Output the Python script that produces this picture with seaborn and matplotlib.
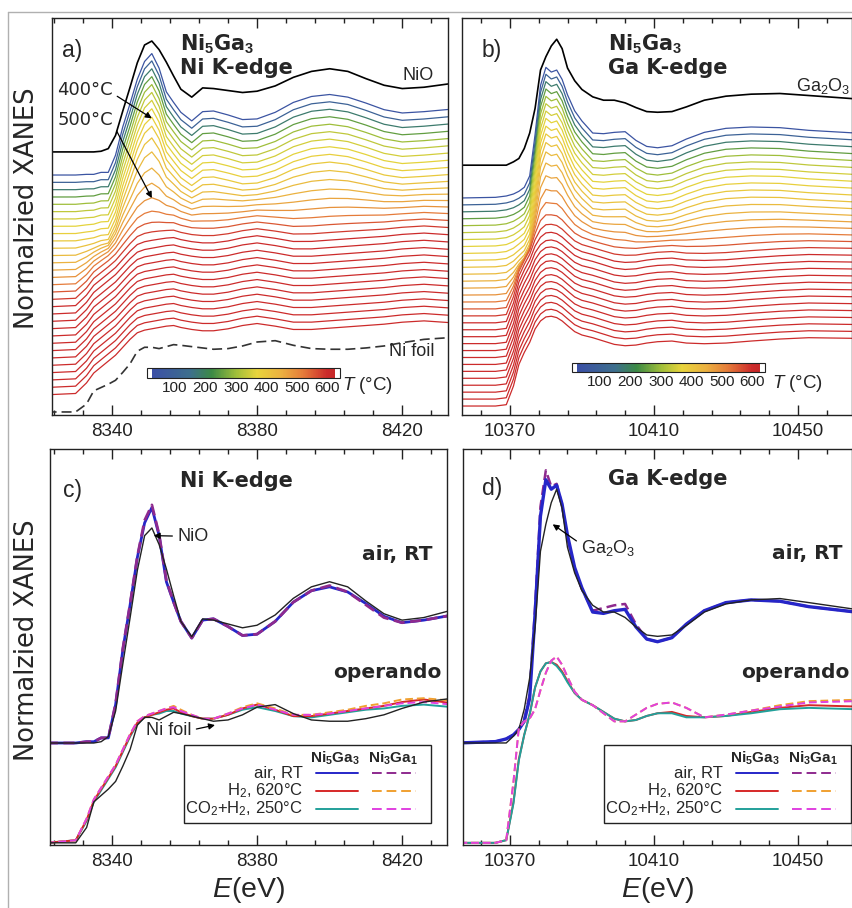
import numpy as np
import pandas as pd
import matplotlib
matplotlib.use("Agg")
import matplotlib.pyplot as plt
import seaborn as sns
from matplotlib.colors import LinearSegmentedColormap, Normalize
from matplotlib.cm import ScalarMappable
from matplotlib.ticker import FixedLocator, AutoMinorLocator, NullLocator
from matplotlib.lines import Line2D
from matplotlib.patches import Rectangle

W, H = 853, 908

# ---------------- data ----------------
TICKS_NI = [8340, 8380, 8420]
TICKS_GA = [10370, 10410, 10450]
CB_TICKS = [100, 200, 300, 400, 500, 600]

E_NI = [8322, 8330, 8333, 8335, 8337, 8339, 8341, 8343, 8345, 8347, 8349, 8351,
        8353, 8355, 8357, 8359, 8362, 8365, 8368, 8372, 8376, 8380, 8385, 8390,
        8395, 8400, 8405, 8410, 8415, 8420, 8426, 8434]
NI_AIR_N5 = [0.0, 0.0, 0.01, 0.01, 0.04, 0.04, 0.30, 0.73, 1.08, 1.45, 1.72, 1.84,
             1.62, 1.26, 1.10, 0.95, 0.82, 0.96, 0.97, 0.91, 0.84, 0.85, 0.95, 1.10,
             1.19, 1.22, 1.18, 1.09, 0.99, 0.94, 0.96, 1.00]
NI_AIR_N3 = [0.0, 0.0, 0.01, 0.01, 0.04, 0.04, 0.31, 0.74, 1.09, 1.46, 1.74, 1.86,
             1.63, 1.27, 1.10, 0.95, 0.82, 0.96, 0.97, 0.91, 0.84, 0.85, 0.95, 1.10,
             1.19, 1.23, 1.18, 1.08, 0.98, 0.94, 0.96, 1.00]
NI_NIO = [0.0, 0.0, 0.0, 0.0, 0.01, 0.05, 0.25, 0.62, 0.98, 1.35, 1.62, 1.68,
          1.55, 1.36, 1.15, 0.95, 0.83, 0.97, 0.96, 0.93, 0.90, 0.92, 1.00, 1.13,
          1.22, 1.26, 1.22, 1.11, 1.01, 0.96, 0.98, 1.04]
NI_FOIL = [0.0, 0.0, 0.12, 0.32, 0.37, 0.42, 0.48, 0.60, 0.73, 0.92, 0.98, 0.98,
           0.96, 0.99, 1.02, 1.01, 0.99, 0.97, 0.95, 0.96, 1.00, 1.06, 1.08, 1.01,
           0.96, 0.95, 0.95, 0.97, 1.00, 1.05, 1.10, 1.13]
NI_OP_H2_N5 = [0.0, 0.02, 0.18, 0.33, 0.42, 0.51, 0.60, 0.72, 0.84, 0.94, 0.98, 1.00,
               1.02, 1.04, 1.05, 1.02, 0.99, 0.97, 0.97, 1.00, 1.05, 1.08, 1.04, 0.99,
               0.99, 1.01, 1.03, 1.05, 1.07, 1.10, 1.12, 1.09]
NI_OP_CO2_N5 = [0.0, 0.02, 0.17, 0.32, 0.41, 0.50, 0.59, 0.71, 0.83, 0.93, 0.98, 1.00,
                1.01, 1.03, 1.03, 1.01, 0.99, 0.97, 0.97, 1.00, 1.04, 1.06, 1.03, 0.99,
                0.98, 1.00, 1.02, 1.04, 1.05, 1.07, 1.08, 1.06]
NI_OP_H2_N3 = [0.0, 0.02, 0.19, 0.34, 0.43, 0.52, 0.61, 0.73, 0.85, 0.95, 0.99, 1.01,
               1.03, 1.05, 1.07, 1.04, 1.00, 0.97, 0.97, 1.01, 1.06, 1.09, 1.05, 1.00,
               1.00, 1.02, 1.04, 1.07, 1.09, 1.12, 1.13, 1.11]
NI_OP_CO2_N3 = [0.0, 0.02, 0.19, 0.34, 0.43, 0.52, 0.61, 0.73, 0.85, 0.95, 0.99, 1.01,
                1.03, 1.05, 1.06, 1.03, 1.00, 0.97, 0.97, 1.01, 1.05, 1.08, 1.04, 1.00,
                1.00, 1.01, 1.03, 1.05, 1.07, 1.09, 1.10, 1.08]

E_GA = [10356, 10366, 10369, 10371, 10372.5, 10374, 10375.5, 10377, 10378.5, 10380,
        10381.5, 10383, 10384.5, 10386, 10388, 10390, 10393, 10396, 10399, 10402,
        10405, 10408, 10411, 10415, 10419, 10424, 10430, 10437, 10445, 10453, 10466]
GA_AIR_N5 = [0.0, 0.01, 0.03, 0.06, 0.10, 0.16, 0.33, 0.95, 1.68, 1.95, 1.88, 1.91,
             1.77, 1.54, 1.30, 1.15, 0.97, 0.96, 0.98, 0.99, 0.86, 0.77, 0.75, 0.78,
             0.88, 0.98, 1.04, 1.06, 1.05, 1.01, 0.97]
GA_AIR_N3 = [0.0, 0.01, 0.03, 0.06, 0.10, 0.17, 0.36, 1.00, 1.75, 2.02, 1.90, 1.92,
             1.76, 1.52, 1.29, 1.14, 0.98, 1.00, 1.02, 1.03, 0.88, 0.77, 0.75, 0.78,
             0.88, 0.98, 1.04, 1.06, 1.05, 1.01, 0.97]
GA_GA2O3 = [0.0, 0.0, 0.0, 0.05, 0.10, 0.25, 0.48, 0.85, 1.42, 1.62, 1.78, 1.88,
            1.74, 1.45, 1.26, 1.13, 1.02, 0.97, 0.97, 0.93, 0.86, 0.80, 0.79, 0.80,
            0.87, 0.97, 1.03, 1.06, 1.07, 1.04, 0.99]
GA_OP_H2_N5 = [0.0, 0.0, 0.02, 0.30, 0.62, 0.80, 0.95, 1.15, 1.27, 1.33, 1.34, 1.32,
               1.27, 1.20, 1.11, 1.06, 1.02, 0.97, 0.92, 0.90, 0.91, 0.94, 0.96, 0.97,
               0.94, 0.93, 0.94, 0.97, 1.00, 1.02, 1.01]
GA_OP_CO2_N5 = [0.0, 0.0, 0.02, 0.29, 0.61, 0.80, 0.95, 1.15, 1.27, 1.33, 1.34, 1.31,
                1.26, 1.19, 1.11, 1.06, 1.02, 0.97, 0.92, 0.90, 0.91, 0.94, 0.96, 0.96,
                0.93, 0.93, 0.94, 0.96, 0.99, 1.00, 0.99]
GA_OP_H2_N3 = [0.0, 0.0, 0.02, 0.45, 0.85, 0.90, 0.92, 0.99, 1.13, 1.26, 1.35, 1.38,
               1.32, 1.23, 1.12, 1.06, 1.02, 0.96, 0.90, 0.90, 0.95, 1.00, 1.03, 1.04,
               1.00, 0.93, 0.95, 0.98, 1.02, 1.05, 1.06]
GA_OP_CO2_N3 = [0.0, 0.0, 0.02, 0.45, 0.85, 0.90, 0.92, 0.99, 1.13, 1.26, 1.35, 1.38,
                1.32, 1.23, 1.12, 1.06, 1.02, 0.96, 0.90, 0.90, 0.95, 1.00, 1.03, 1.04,
                1.00, 0.93, 0.95, 0.98, 1.01, 1.04, 1.05]

# in-situ heating series (top to bottom): temperature of each scan and
# the fraction of the oxidised (air, RT) spectrum it still resembles
TEMPS = [45, 100, 180, 250, 300, 330, 350, 365, 380, 395, 410, 425, 445, 465, 490,
         520, 555, 585, 600, 600, 600, 600, 600, 600, 600, 600, 600, 600, 600, 600, 600]
FRAC_NI = [1.0, 1.0, 0.99, 0.98, 0.97, 0.96, 0.95, 0.93, 0.91, 0.88, 0.80, 0.68,
           0.52, 0.38, 0.25, 0.14, 0.07, 0.03, 0.01, 0, 0, 0, 0, 0, 0, 0, 0, 0, 0, 0, 0]
FRAC_GA = [1.0, 1.0, 0.99, 0.98, 0.97, 0.96, 0.95, 0.94, 0.92, 0.90, 0.86, 0.80,
           0.70, 0.56, 0.40, 0.25, 0.12, 0.05, 0.02, 0, 0, 0, 0, 0, 0, 0, 0, 0, 0, 0, 0]

CMAP_T = [25, 150, 220, 300, 370, 450, 520, 600, 625]
CMAP_COLORS = ["#3b4fa6", "#3d6f8c", "#3c8a45", "#9fbe3a", "#e8d43c", "#ebb040",
               "#e57c3a", "#cc2b2b", "#c62828"]

# ---------------- style ----------------
sns.set_theme(style="ticks")
plt.rcParams.update({
    "font.family": ["Liberation Sans", "DejaVu Sans"],
    "mathtext.fontset": "custom",
    "mathtext.rm": "Liberation Sans",
    "mathtext.it": "Liberation Sans:italic",
    "mathtext.bf": "Liberation Sans:bold",
    "axes.linewidth": 1.0,
    "axes.edgecolor": "#222222",
    "xtick.color": "#222222",
})

C_AIR5, C_AIR3 = "#2626c8", "#8e2a8e"
C_RED, C_ORANGE = "#d62828", "#f0a030"
C_TEAL, C_MAG = "#22a09a", "#e040e0"
DASH = (0, (4, 2))

fig = plt.figure(figsize=(W / 100, H / 100), dpi=100)


def rect(l, t, r, b):
    return [l / W, 1 - b / H, (r - l) / W, (b - t) / H]


def fpt(x, y):
    return (x / W, 1 - y / H)


ax_a = fig.add_axes(rect(52, 18, 448, 415))
ax_b = fig.add_axes(rect(462, 18, 852, 415))
ax_c = fig.add_axes(rect(50, 449, 447, 845))
ax_d = fig.add_axes(rect(463, 449, 852, 845))

t_norm = Normalize(25, 625)
cmap = LinearSegmentedColormap.from_list(
    "temp", [((t - 25) / 600, c) for t, c in zip(CMAP_T, CMAP_COLORS)])
cmap.set_under("white")
cmap.set_over("white")


def stacked(ax, E, ox, red, fracs, step, ref, ref_off, foil=None, foil_off=0.0):
    ox = np.array(ox)
    red = np.array(red)
    frames = []
    pal = {}
    for k, (t, f) in enumerate(zip(TEMPS, fracs)):
        name = f"s{k:02d}"
        frames.append(pd.DataFrame({"E": E, "mu": f * ox + (1 - f) * red - k * step,
                                    "scan": name}))
        pal[name] = cmap(t_norm(t))
    df = pd.concat(frames, ignore_index=True)
    sns.lineplot(data=df, x="E", y="mu", hue="scan", palette=pal, estimator=None,
                 sort=False, legend=False, lw=0.9, ax=ax)
    sns.lineplot(x=E, y=np.array(ref) + ref_off, color="black", lw=1.2, ax=ax)
    if foil is not None:
        sns.lineplot(x=E, y=np.array(foil) + foil_off, color="#333333", lw=1.2,
                     linestyle=(0, (6, 3)), ax=ax)


def style_axis(ax, xlim, ylim, ticks):
    ax.set_xlim(*xlim)
    ax.set_ylim(*ylim)
    ax.xaxis.set_major_locator(FixedLocator(ticks))
    ax.xaxis.set_minor_locator(AutoMinorLocator(5))
    ax.yaxis.set_major_locator(NullLocator())
    ax.yaxis.set_minor_locator(NullLocator())
    ax.tick_params(axis="x", which="both", direction="in", top=True, bottom=True,
                   labelsize=13.5, pad=6)
    ax.tick_params(axis="x", which="major", length=7, width=1)
    ax.tick_params(axis="x", which="minor", length=3.5, width=1)
    ax.set_xlabel("")
    ax.set_ylabel("")
    for s in ax.spines.values():
        s.set_visible(True)
        s.set_linewidth(1.0)


# ---------------- panel a ----------------
stacked(ax_a, E_NI, NI_AIR_N5, NI_OP_H2_N5, FRAC_NI, 0.111, NI_NIO, 0.35,
        foil=NI_FOIL, foil_off=-3.59)
style_axis(ax_a, (8323.5, 8432.6), (-3.636, 2.379), TICKS_NI)

# ---------------- panel b ----------------
stacked(ax_b, E_GA, GA_AIR_N5, GA_OP_H2_N5, FRAC_GA, 0.1035, GA_GA2O3, 0.49)
style_axis(ax_b, (10356.7, 10465.0), (-3.239, 2.687), TICKS_GA)

# ---------------- panel c ----------------
OFF_C = -0.78
sns.lineplot(x=E_NI, y=NI_AIR_N5, color=C_AIR5, lw=2.0, ax=ax_c)
sns.lineplot(x=E_NI, y=NI_AIR_N3, color=C_AIR3, lw=2.0, linestyle=DASH, ax=ax_c)
sns.lineplot(x=E_NI, y=NI_NIO, color="#222222", lw=1.0, ax=ax_c)
sns.lineplot(x=E_NI, y=np.array(NI_OP_CO2_N5) + OFF_C, color=C_TEAL, lw=1.4, ax=ax_c)
sns.lineplot(x=E_NI, y=np.array(NI_OP_H2_N5) + OFF_C, color=C_RED, lw=1.4, ax=ax_c)
sns.lineplot(x=E_NI, y=np.array(NI_OP_H2_N3) + OFF_C, color=C_ORANGE, lw=1.4,
             linestyle=DASH, ax=ax_c)
sns.lineplot(x=E_NI, y=np.array(NI_OP_CO2_N3) + OFF_C, color=C_MAG, lw=1.4,
             linestyle=DASH, ax=ax_c)
sns.lineplot(x=E_NI, y=np.array(NI_FOIL) + OFF_C, color="#222222", lw=1.0, ax=ax_c)
style_axis(ax_c, (8322.9, 8432.4), (-0.797, 2.297), TICKS_NI)

# ---------------- panel d ----------------
OFF_D = -0.74
sns.lineplot(x=E_GA, y=GA_AIR_N3, color=C_AIR3, lw=1.8, linestyle=DASH, ax=ax_d)
sns.lineplot(x=E_GA, y=GA_AIR_N5, color=C_AIR5, lw=2.4, ax=ax_d)
sns.lineplot(x=E_GA, y=GA_GA2O3, color="#222222", lw=1.0, ax=ax_d)
sns.lineplot(x=E_GA, y=np.array(GA_OP_H2_N5) + OFF_D, color=C_RED, lw=1.4, ax=ax_d)
sns.lineplot(x=E_GA, y=np.array(GA_OP_CO2_N5) + OFF_D, color=C_TEAL, lw=1.4, ax=ax_d)
sns.lineplot(x=E_GA, y=np.array(GA_OP_H2_N3) + OFF_D, color=C_ORANGE, lw=1.4,
             linestyle=DASH, ax=ax_d)
sns.lineplot(x=E_GA, y=np.array(GA_OP_CO2_N3) + OFF_D, color=C_MAG, lw=1.4,
             linestyle=DASH, ax=ax_d)
style_axis(ax_d, (10357.0, 10465.0), (-0.756, 2.178), TICKS_GA)

# ---------------- annotations ----------------
arrow = dict(arrowstyle="-|>", color="black", lw=0.9, shrinkA=1, shrinkB=0,
             mutation_scale=9)
ax_a.annotate("400°C", xy=(8351, 0.86), xycoords="data", xytext=(0.013, 0.819),
              textcoords="axes fraction", ha="left", va="center", fontsize=13,
              family="DejaVu Sans", arrowprops=dict(arrow, relpos=(1.0, 0.3)))
ax_a.annotate("500°C", xy=(8351, -0.35), xycoords="data", xytext=(0.013, 0.743),
              textcoords="axes fraction", ha="left", va="center", fontsize=13,
              family="DejaVu Sans", arrowprops=dict(arrow, relpos=(1.0, 0.3)))
ax_c.annotate("NiO", xy=(8351.5, 1.62), xycoords="data", xytext=(0.320, 0.780),
              textcoords="axes fraction", ha="left", va="center", fontsize=13,
              arrowprops=dict(arrow, relpos=(0.0, 0.5)))
ax_c.annotate("Ni foil", xy=(8368.4, 0.14), xycoords="data", xytext=(0.2997, 0.2904),
              textcoords="axes fraction", ha="center", va="center", fontsize=13,
              arrowprops=dict(arrow, relpos=(1.0, 0.5)))
ax_d.annotate("Ga$_2$O$_3$", xy=(10381.9, 1.62), xycoords="data",
              xytext=(0.3728, 0.75), textcoords="axes fraction", ha="center",
              va="center", fontsize=13, arrowprops=dict(arrow, relpos=(0.0, 0.7)))

# reference labels in stacked panels
fig.text(*fpt(418, 76), "NiO", ha="center", va="center", fontsize=13)
fig.text(*fpt(412, 351), "Ni foil", ha="center", va="center", fontsize=13)
fig.text(*fpt(823, 86), "Ga$_2$O$_3$", ha="center", va="center", fontsize=13)

# panel titles
TB = dict(family="DejaVu Sans", fontweight="bold", fontsize=15, va="baseline",
          ha="left")
fig.text(*fpt(180, 51), r"Ni$_\mathbf{5}$Ga$_\mathbf{3}$", **TB)
fig.text(*fpt(180, 74), "Ni K-edge", **TB)
fig.text(*fpt(608, 51), r"Ni$_\mathbf{5}$Ga$_\mathbf{3}$", **TB)
fig.text(*fpt(608, 74), "Ga K-edge", **TB)
fig.text(*fpt(180, 487), "Ni K-edge", **TB)
fig.text(*fpt(608, 485), "Ga K-edge", **TB)
TR = dict(family="DejaVu Sans", fontweight="bold", fontsize=14.5, va="baseline",
          ha="right")
fig.text(*fpt(433, 560), "air, RT", **TR)
fig.text(*fpt(843, 559), "air, RT", **TR)
fig.text(*fpt(442, 678), "operando", **TR)
fig.text(*fpt(850, 678), "operando", **TR)

# panel letters
for lbl, (x, y) in zip(["a)", "b)", "c)", "d)"], [(62, 57), (482, 57), (63, 497), (482, 495)]):
    fig.text(*fpt(x, y), lbl, fontsize=16.5, ha="left", va="baseline")

# axis labels
for yc in (208, 640):
    fig.text(*fpt(27, yc), "Normalzied XANES", rotation=90, ha="center",
             va="center", fontsize=18.5, family="DejaVu Sans")
for xc in ((50 + 447) / 2, (463 + 852) / 2):
    fig.text(*fpt(xc, 890), "$E$(eV)", ha="center", va="center", fontsize=20.5)

# colour bars
for (l, t, r, b), (tx, ty) in [((147, 368, 340, 378), (342, 386)),
                               ((572, 363, 765, 372), (772, 383))]:
    cax = fig.add_axes(rect(l, t, r, b))
    cb = fig.colorbar(ScalarMappable(norm=t_norm, cmap=cmap), cax=cax,
                      orientation="horizontal", extend="both", extendrect=True,
                      extendfrac=0.028, ticks=CB_TICKS)
    cb.outline.set_linewidth(0.8)
    cax.tick_params(length=0, labelsize=11, pad=2)
    fig.text(*fpt(tx, ty), "$T$ (°C)", ha="left", va="center", fontsize=13.5)

# key tables in panels c and d
ROWS = ["air, RT", "H$_2$, 620°C", "CO$_2$+H$_2$, 250°C"]
SOLID = [C_AIR5, C_RED, C_TEAL]
DASHED = [C_AIR3, C_ORANGE, C_MAG]
for dx in (0, 420):
    fig.add_artist(Rectangle(fpt(184 + dx, 823), 247 / W, 78 / H,
                             transform=fig.transFigure, facecolor="white",
                             edgecolor="#222222", lw=1.0, zorder=5))
    fig.text(*fpt(335 + dx, 758), r"Ni$_\mathbf{5}$Ga$_\mathbf{3}$", ha="center",
             va="center", fontsize=11, fontweight="bold", zorder=7)
    fig.text(*fpt(393 + dx, 758), r"Ni$_\mathbf{3}$Ga$_\mathbf{1}$", ha="center",
             va="center", fontsize=11, fontweight="bold", zorder=7)
    for yy, lab, cs, cd in zip((773, 791, 809), ROWS, SOLID, DASHED):
        fig.text(*fpt(303 + dx, yy), lab, ha="right", va="center", fontsize=12,
                 zorder=7)
        fig.add_artist(Line2D([(316 + dx) / W, (358 + dx) / W], [1 - yy / H] * 2,
                              transform=fig.transFigure, color=cs, lw=1.4, zorder=7))
        fig.add_artist(Line2D([(372 + dx) / W, (416 + dx) / W], [1 - yy / H] * 2,
                              transform=fig.transFigure, color=cd, lw=1.4,
                              linestyle=(0, (5, 2.5)), zorder=7))

# faint outer frame
fig.add_artist(Line2D([8 / W, 1], [1 - 12 / H] * 2, transform=fig.transFigure,
                      color="#b0b0b0", lw=1.0))
fig.add_artist(Line2D([8 / W, 8 / W], [0, 1 - 12 / H], transform=fig.transFigure,
                      color="#b0b0b0", lw=1.0))

fig.savefig("out.png", dpi=100)
